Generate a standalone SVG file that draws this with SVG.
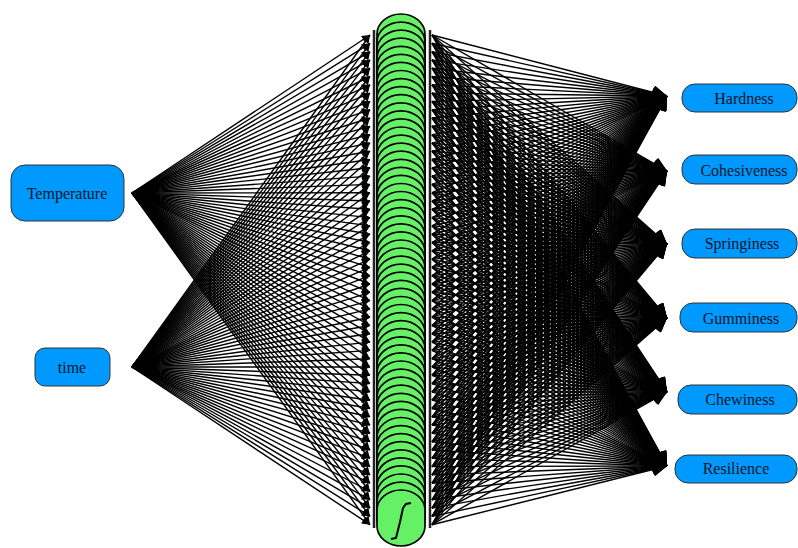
<svg xmlns="http://www.w3.org/2000/svg" xmlns:xlink="http://www.w3.org/1999/xlink" width="798" height="548" viewBox="0 0 798 548">
<style>
.c line{stroke:#000;stroke-width:1.4;fill:none}
.in line{marker-end:url(#ah)}
.out line{marker-end:url(#ao)}
.box{fill:#0099ff;stroke:#333;stroke-width:1}
.t{font-family:"Liberation Serif","Times New Roman",serif;font-size:16px;fill:#0a1628;text-anchor:middle;dominant-baseline:central}
.bar{stroke:#222;stroke-width:2.5}
</style>
<defs>
<marker id="ah" viewBox="0 0 10 10" refX="10" refY="5" markerWidth="10" markerHeight="8" markerUnits="userSpaceOnUse" orient="auto"><path d="M0,0L10,5L0,10z" fill="#000"/></marker>
<marker id="ao" viewBox="0 0 10 10" refX="10" refY="5" markerWidth="16" markerHeight="14" markerUnits="userSpaceOnUse" orient="auto"><path d="M0,0L10,5L0,10z" fill="#000"/></marker>
<rect id="neuron" x="377" y="0" width="48" height="56" rx="24" ry="20" fill="#66f066" stroke="#000" stroke-width="1.7"/>
</defs>
<g id="connectors" class="c">
<g class="in">
<line x1="132" y1="193" x2="370" y2="35"/><line x1="132" y1="193" x2="370" y2="43.3"/><line x1="132" y1="193" x2="370" y2="51.6"/><line x1="132" y1="193" x2="370" y2="59.9"/><line x1="132" y1="193" x2="370" y2="68.2"/><line x1="132" y1="193" x2="370" y2="76.5"/><line x1="132" y1="193" x2="370" y2="84.8"/><line x1="132" y1="193" x2="370" y2="93.1"/><line x1="132" y1="193" x2="370" y2="101.4"/><line x1="132" y1="193" x2="370" y2="109.7"/>
<line x1="132" y1="193" x2="370" y2="118"/><line x1="132" y1="193" x2="370" y2="126.3"/><line x1="132" y1="193" x2="370" y2="134.6"/><line x1="132" y1="193" x2="370" y2="142.9"/><line x1="132" y1="193" x2="370" y2="151.2"/><line x1="132" y1="193" x2="370" y2="159.5"/><line x1="132" y1="193" x2="370" y2="167.8"/><line x1="132" y1="193" x2="370" y2="176.1"/><line x1="132" y1="193" x2="370" y2="184.4"/><line x1="132" y1="193" x2="370" y2="192.7"/>
<line x1="132" y1="193" x2="370" y2="201"/><line x1="132" y1="193" x2="370" y2="209.3"/><line x1="132" y1="193" x2="370" y2="217.6"/><line x1="132" y1="193" x2="370" y2="225.9"/><line x1="132" y1="193" x2="370" y2="234.2"/><line x1="132" y1="193" x2="370" y2="242.5"/><line x1="132" y1="193" x2="370" y2="250.8"/><line x1="132" y1="193" x2="370" y2="259.1"/><line x1="132" y1="193" x2="370" y2="267.4"/><line x1="132" y1="193" x2="370" y2="275.7"/>
<line x1="132" y1="193" x2="370" y2="284"/><line x1="132" y1="193" x2="370" y2="292.3"/><line x1="132" y1="193" x2="370" y2="300.6"/><line x1="132" y1="193" x2="370" y2="308.9"/><line x1="132" y1="193" x2="370" y2="317.2"/><line x1="132" y1="193" x2="370" y2="325.5"/><line x1="132" y1="193" x2="370" y2="333.8"/><line x1="132" y1="193" x2="370" y2="342.1"/><line x1="132" y1="193" x2="370" y2="350.4"/><line x1="132" y1="193" x2="370" y2="358.7"/>
<line x1="132" y1="193" x2="370" y2="367"/><line x1="132" y1="193" x2="370" y2="375.3"/><line x1="132" y1="193" x2="370" y2="383.6"/><line x1="132" y1="193" x2="370" y2="391.9"/><line x1="132" y1="193" x2="370" y2="400.2"/><line x1="132" y1="193" x2="370" y2="408.5"/><line x1="132" y1="193" x2="370" y2="416.8"/><line x1="132" y1="193" x2="370" y2="425.1"/><line x1="132" y1="193" x2="370" y2="433.4"/><line x1="132" y1="193" x2="370" y2="441.7"/>
<line x1="132" y1="193" x2="370" y2="450"/><line x1="132" y1="193" x2="370" y2="458.3"/><line x1="132" y1="193" x2="370" y2="466.6"/><line x1="132" y1="193" x2="370" y2="474.9"/><line x1="132" y1="193" x2="370" y2="483.2"/><line x1="132" y1="193" x2="370" y2="491.5"/><line x1="132" y1="193" x2="370" y2="499.8"/><line x1="132" y1="193" x2="370" y2="508.1"/><line x1="132" y1="193" x2="370" y2="516.4"/><line x1="132" y1="193" x2="370" y2="524.7"/>

<line x1="132" y1="367" x2="370" y2="35"/><line x1="132" y1="367" x2="370" y2="43.3"/><line x1="132" y1="367" x2="370" y2="51.6"/><line x1="132" y1="367" x2="370" y2="59.9"/><line x1="132" y1="367" x2="370" y2="68.2"/><line x1="132" y1="367" x2="370" y2="76.5"/><line x1="132" y1="367" x2="370" y2="84.8"/><line x1="132" y1="367" x2="370" y2="93.1"/><line x1="132" y1="367" x2="370" y2="101.4"/><line x1="132" y1="367" x2="370" y2="109.7"/>
<line x1="132" y1="367" x2="370" y2="118"/><line x1="132" y1="367" x2="370" y2="126.3"/><line x1="132" y1="367" x2="370" y2="134.6"/><line x1="132" y1="367" x2="370" y2="142.9"/><line x1="132" y1="367" x2="370" y2="151.2"/><line x1="132" y1="367" x2="370" y2="159.5"/><line x1="132" y1="367" x2="370" y2="167.8"/><line x1="132" y1="367" x2="370" y2="176.1"/><line x1="132" y1="367" x2="370" y2="184.4"/><line x1="132" y1="367" x2="370" y2="192.7"/>
<line x1="132" y1="367" x2="370" y2="201"/><line x1="132" y1="367" x2="370" y2="209.3"/><line x1="132" y1="367" x2="370" y2="217.6"/><line x1="132" y1="367" x2="370" y2="225.9"/><line x1="132" y1="367" x2="370" y2="234.2"/><line x1="132" y1="367" x2="370" y2="242.5"/><line x1="132" y1="367" x2="370" y2="250.8"/><line x1="132" y1="367" x2="370" y2="259.1"/><line x1="132" y1="367" x2="370" y2="267.4"/><line x1="132" y1="367" x2="370" y2="275.7"/>
<line x1="132" y1="367" x2="370" y2="284"/><line x1="132" y1="367" x2="370" y2="292.3"/><line x1="132" y1="367" x2="370" y2="300.6"/><line x1="132" y1="367" x2="370" y2="308.9"/><line x1="132" y1="367" x2="370" y2="317.2"/><line x1="132" y1="367" x2="370" y2="325.5"/><line x1="132" y1="367" x2="370" y2="333.8"/><line x1="132" y1="367" x2="370" y2="342.1"/><line x1="132" y1="367" x2="370" y2="350.4"/><line x1="132" y1="367" x2="370" y2="358.7"/>
<line x1="132" y1="367" x2="370" y2="367"/><line x1="132" y1="367" x2="370" y2="375.3"/><line x1="132" y1="367" x2="370" y2="383.6"/><line x1="132" y1="367" x2="370" y2="391.9"/><line x1="132" y1="367" x2="370" y2="400.2"/><line x1="132" y1="367" x2="370" y2="408.5"/><line x1="132" y1="367" x2="370" y2="416.8"/><line x1="132" y1="367" x2="370" y2="425.1"/><line x1="132" y1="367" x2="370" y2="433.4"/><line x1="132" y1="367" x2="370" y2="441.7"/>
<line x1="132" y1="367" x2="370" y2="450"/><line x1="132" y1="367" x2="370" y2="458.3"/><line x1="132" y1="367" x2="370" y2="466.6"/><line x1="132" y1="367" x2="370" y2="474.9"/><line x1="132" y1="367" x2="370" y2="483.2"/><line x1="132" y1="367" x2="370" y2="491.5"/><line x1="132" y1="367" x2="370" y2="499.8"/><line x1="132" y1="367" x2="370" y2="508.1"/><line x1="132" y1="367" x2="370" y2="516.4"/><line x1="132" y1="367" x2="370" y2="524.7"/>
</g>
<g class="out">
<line x1="432" y1="35" x2="667" y2="96"/><line x1="432" y1="43.3" x2="667" y2="96"/><line x1="432" y1="51.6" x2="667" y2="96"/><line x1="432" y1="59.9" x2="667" y2="96"/><line x1="432" y1="68.2" x2="667" y2="96"/><line x1="432" y1="76.5" x2="667" y2="96"/><line x1="432" y1="84.8" x2="667" y2="96"/><line x1="432" y1="93.1" x2="667" y2="96"/><line x1="432" y1="101.4" x2="667" y2="96"/><line x1="432" y1="109.7" x2="667" y2="96"/>
<line x1="432" y1="118" x2="667" y2="96"/><line x1="432" y1="126.3" x2="667" y2="96"/><line x1="432" y1="134.6" x2="667" y2="96"/><line x1="432" y1="142.9" x2="667" y2="96"/><line x1="432" y1="151.2" x2="667" y2="96"/><line x1="432" y1="159.5" x2="667" y2="96"/><line x1="432" y1="167.8" x2="667" y2="96"/><line x1="432" y1="176.1" x2="667" y2="96"/><line x1="432" y1="184.4" x2="667" y2="96"/><line x1="432" y1="192.7" x2="667" y2="96"/>
<line x1="432" y1="201" x2="667" y2="96"/><line x1="432" y1="209.3" x2="667" y2="96"/><line x1="432" y1="217.6" x2="667" y2="96"/><line x1="432" y1="225.9" x2="667" y2="96"/><line x1="432" y1="234.2" x2="667" y2="96"/><line x1="432" y1="242.5" x2="667" y2="96"/><line x1="432" y1="250.8" x2="667" y2="96"/><line x1="432" y1="259.1" x2="667" y2="96"/><line x1="432" y1="267.4" x2="667" y2="96"/><line x1="432" y1="275.7" x2="667" y2="96"/>
<line x1="432" y1="284" x2="667" y2="96"/><line x1="432" y1="292.3" x2="667" y2="96"/><line x1="432" y1="300.6" x2="667" y2="96"/><line x1="432" y1="308.9" x2="667" y2="96"/><line x1="432" y1="317.2" x2="667" y2="96"/><line x1="432" y1="325.5" x2="667" y2="96"/><line x1="432" y1="333.8" x2="667" y2="96"/><line x1="432" y1="342.1" x2="667" y2="96"/><line x1="432" y1="350.4" x2="667" y2="96"/><line x1="432" y1="358.7" x2="667" y2="96"/>
<line x1="432" y1="367" x2="667" y2="96"/><line x1="432" y1="375.3" x2="667" y2="96"/><line x1="432" y1="383.6" x2="667" y2="96"/><line x1="432" y1="391.9" x2="667" y2="96"/><line x1="432" y1="400.2" x2="667" y2="96"/><line x1="432" y1="408.5" x2="667" y2="96"/><line x1="432" y1="416.8" x2="667" y2="96"/><line x1="432" y1="425.1" x2="667" y2="96"/><line x1="432" y1="433.4" x2="667" y2="96"/><line x1="432" y1="441.7" x2="667" y2="96"/>
<line x1="432" y1="450" x2="667" y2="96"/><line x1="432" y1="458.3" x2="667" y2="96"/><line x1="432" y1="466.6" x2="667" y2="96"/><line x1="432" y1="474.9" x2="667" y2="96"/><line x1="432" y1="483.2" x2="667" y2="96"/><line x1="432" y1="491.5" x2="667" y2="96"/><line x1="432" y1="499.8" x2="667" y2="96"/><line x1="432" y1="508.1" x2="667" y2="96"/><line x1="432" y1="516.4" x2="667" y2="96"/><line x1="432" y1="524.7" x2="667" y2="96"/>

<line x1="432" y1="35" x2="667" y2="171"/><line x1="432" y1="43.3" x2="667" y2="171"/><line x1="432" y1="51.6" x2="667" y2="171"/><line x1="432" y1="59.9" x2="667" y2="171"/><line x1="432" y1="68.2" x2="667" y2="171"/><line x1="432" y1="76.5" x2="667" y2="171"/><line x1="432" y1="84.8" x2="667" y2="171"/><line x1="432" y1="93.1" x2="667" y2="171"/><line x1="432" y1="101.4" x2="667" y2="171"/><line x1="432" y1="109.7" x2="667" y2="171"/>
<line x1="432" y1="118" x2="667" y2="171"/><line x1="432" y1="126.3" x2="667" y2="171"/><line x1="432" y1="134.6" x2="667" y2="171"/><line x1="432" y1="142.9" x2="667" y2="171"/><line x1="432" y1="151.2" x2="667" y2="171"/><line x1="432" y1="159.5" x2="667" y2="171"/><line x1="432" y1="167.8" x2="667" y2="171"/><line x1="432" y1="176.1" x2="667" y2="171"/><line x1="432" y1="184.4" x2="667" y2="171"/><line x1="432" y1="192.7" x2="667" y2="171"/>
<line x1="432" y1="201" x2="667" y2="171"/><line x1="432" y1="209.3" x2="667" y2="171"/><line x1="432" y1="217.6" x2="667" y2="171"/><line x1="432" y1="225.9" x2="667" y2="171"/><line x1="432" y1="234.2" x2="667" y2="171"/><line x1="432" y1="242.5" x2="667" y2="171"/><line x1="432" y1="250.8" x2="667" y2="171"/><line x1="432" y1="259.1" x2="667" y2="171"/><line x1="432" y1="267.4" x2="667" y2="171"/><line x1="432" y1="275.7" x2="667" y2="171"/>
<line x1="432" y1="284" x2="667" y2="171"/><line x1="432" y1="292.3" x2="667" y2="171"/><line x1="432" y1="300.6" x2="667" y2="171"/><line x1="432" y1="308.9" x2="667" y2="171"/><line x1="432" y1="317.2" x2="667" y2="171"/><line x1="432" y1="325.5" x2="667" y2="171"/><line x1="432" y1="333.8" x2="667" y2="171"/><line x1="432" y1="342.1" x2="667" y2="171"/><line x1="432" y1="350.4" x2="667" y2="171"/><line x1="432" y1="358.7" x2="667" y2="171"/>
<line x1="432" y1="367" x2="667" y2="171"/><line x1="432" y1="375.3" x2="667" y2="171"/><line x1="432" y1="383.6" x2="667" y2="171"/><line x1="432" y1="391.9" x2="667" y2="171"/><line x1="432" y1="400.2" x2="667" y2="171"/><line x1="432" y1="408.5" x2="667" y2="171"/><line x1="432" y1="416.8" x2="667" y2="171"/><line x1="432" y1="425.1" x2="667" y2="171"/><line x1="432" y1="433.4" x2="667" y2="171"/><line x1="432" y1="441.7" x2="667" y2="171"/>
<line x1="432" y1="450" x2="667" y2="171"/><line x1="432" y1="458.3" x2="667" y2="171"/><line x1="432" y1="466.6" x2="667" y2="171"/><line x1="432" y1="474.9" x2="667" y2="171"/><line x1="432" y1="483.2" x2="667" y2="171"/><line x1="432" y1="491.5" x2="667" y2="171"/><line x1="432" y1="499.8" x2="667" y2="171"/><line x1="432" y1="508.1" x2="667" y2="171"/><line x1="432" y1="516.4" x2="667" y2="171"/><line x1="432" y1="524.7" x2="667" y2="171"/>

<line x1="432" y1="35" x2="667" y2="244"/><line x1="432" y1="43.3" x2="667" y2="244"/><line x1="432" y1="51.6" x2="667" y2="244"/><line x1="432" y1="59.9" x2="667" y2="244"/><line x1="432" y1="68.2" x2="667" y2="244"/><line x1="432" y1="76.5" x2="667" y2="244"/><line x1="432" y1="84.8" x2="667" y2="244"/><line x1="432" y1="93.1" x2="667" y2="244"/><line x1="432" y1="101.4" x2="667" y2="244"/><line x1="432" y1="109.7" x2="667" y2="244"/>
<line x1="432" y1="118" x2="667" y2="244"/><line x1="432" y1="126.3" x2="667" y2="244"/><line x1="432" y1="134.6" x2="667" y2="244"/><line x1="432" y1="142.9" x2="667" y2="244"/><line x1="432" y1="151.2" x2="667" y2="244"/><line x1="432" y1="159.5" x2="667" y2="244"/><line x1="432" y1="167.8" x2="667" y2="244"/><line x1="432" y1="176.1" x2="667" y2="244"/><line x1="432" y1="184.4" x2="667" y2="244"/><line x1="432" y1="192.7" x2="667" y2="244"/>
<line x1="432" y1="201" x2="667" y2="244"/><line x1="432" y1="209.3" x2="667" y2="244"/><line x1="432" y1="217.6" x2="667" y2="244"/><line x1="432" y1="225.9" x2="667" y2="244"/><line x1="432" y1="234.2" x2="667" y2="244"/><line x1="432" y1="242.5" x2="667" y2="244"/><line x1="432" y1="250.8" x2="667" y2="244"/><line x1="432" y1="259.1" x2="667" y2="244"/><line x1="432" y1="267.4" x2="667" y2="244"/><line x1="432" y1="275.7" x2="667" y2="244"/>
<line x1="432" y1="284" x2="667" y2="244"/><line x1="432" y1="292.3" x2="667" y2="244"/><line x1="432" y1="300.6" x2="667" y2="244"/><line x1="432" y1="308.9" x2="667" y2="244"/><line x1="432" y1="317.2" x2="667" y2="244"/><line x1="432" y1="325.5" x2="667" y2="244"/><line x1="432" y1="333.8" x2="667" y2="244"/><line x1="432" y1="342.1" x2="667" y2="244"/><line x1="432" y1="350.4" x2="667" y2="244"/><line x1="432" y1="358.7" x2="667" y2="244"/>
<line x1="432" y1="367" x2="667" y2="244"/><line x1="432" y1="375.3" x2="667" y2="244"/><line x1="432" y1="383.6" x2="667" y2="244"/><line x1="432" y1="391.9" x2="667" y2="244"/><line x1="432" y1="400.2" x2="667" y2="244"/><line x1="432" y1="408.5" x2="667" y2="244"/><line x1="432" y1="416.8" x2="667" y2="244"/><line x1="432" y1="425.1" x2="667" y2="244"/><line x1="432" y1="433.4" x2="667" y2="244"/><line x1="432" y1="441.7" x2="667" y2="244"/>
<line x1="432" y1="450" x2="667" y2="244"/><line x1="432" y1="458.3" x2="667" y2="244"/><line x1="432" y1="466.6" x2="667" y2="244"/><line x1="432" y1="474.9" x2="667" y2="244"/><line x1="432" y1="483.2" x2="667" y2="244"/><line x1="432" y1="491.5" x2="667" y2="244"/><line x1="432" y1="499.8" x2="667" y2="244"/><line x1="432" y1="508.1" x2="667" y2="244"/><line x1="432" y1="516.4" x2="667" y2="244"/><line x1="432" y1="524.7" x2="667" y2="244"/>

<line x1="432" y1="35" x2="667" y2="318"/><line x1="432" y1="43.3" x2="667" y2="318"/><line x1="432" y1="51.6" x2="667" y2="318"/><line x1="432" y1="59.9" x2="667" y2="318"/><line x1="432" y1="68.2" x2="667" y2="318"/><line x1="432" y1="76.5" x2="667" y2="318"/><line x1="432" y1="84.8" x2="667" y2="318"/><line x1="432" y1="93.1" x2="667" y2="318"/><line x1="432" y1="101.4" x2="667" y2="318"/><line x1="432" y1="109.7" x2="667" y2="318"/>
<line x1="432" y1="118" x2="667" y2="318"/><line x1="432" y1="126.3" x2="667" y2="318"/><line x1="432" y1="134.6" x2="667" y2="318"/><line x1="432" y1="142.9" x2="667" y2="318"/><line x1="432" y1="151.2" x2="667" y2="318"/><line x1="432" y1="159.5" x2="667" y2="318"/><line x1="432" y1="167.8" x2="667" y2="318"/><line x1="432" y1="176.1" x2="667" y2="318"/><line x1="432" y1="184.4" x2="667" y2="318"/><line x1="432" y1="192.7" x2="667" y2="318"/>
<line x1="432" y1="201" x2="667" y2="318"/><line x1="432" y1="209.3" x2="667" y2="318"/><line x1="432" y1="217.6" x2="667" y2="318"/><line x1="432" y1="225.9" x2="667" y2="318"/><line x1="432" y1="234.2" x2="667" y2="318"/><line x1="432" y1="242.5" x2="667" y2="318"/><line x1="432" y1="250.8" x2="667" y2="318"/><line x1="432" y1="259.1" x2="667" y2="318"/><line x1="432" y1="267.4" x2="667" y2="318"/><line x1="432" y1="275.7" x2="667" y2="318"/>
<line x1="432" y1="284" x2="667" y2="318"/><line x1="432" y1="292.3" x2="667" y2="318"/><line x1="432" y1="300.6" x2="667" y2="318"/><line x1="432" y1="308.9" x2="667" y2="318"/><line x1="432" y1="317.2" x2="667" y2="318"/><line x1="432" y1="325.5" x2="667" y2="318"/><line x1="432" y1="333.8" x2="667" y2="318"/><line x1="432" y1="342.1" x2="667" y2="318"/><line x1="432" y1="350.4" x2="667" y2="318"/><line x1="432" y1="358.7" x2="667" y2="318"/>
<line x1="432" y1="367" x2="667" y2="318"/><line x1="432" y1="375.3" x2="667" y2="318"/><line x1="432" y1="383.6" x2="667" y2="318"/><line x1="432" y1="391.9" x2="667" y2="318"/><line x1="432" y1="400.2" x2="667" y2="318"/><line x1="432" y1="408.5" x2="667" y2="318"/><line x1="432" y1="416.8" x2="667" y2="318"/><line x1="432" y1="425.1" x2="667" y2="318"/><line x1="432" y1="433.4" x2="667" y2="318"/><line x1="432" y1="441.7" x2="667" y2="318"/>
<line x1="432" y1="450" x2="667" y2="318"/><line x1="432" y1="458.3" x2="667" y2="318"/><line x1="432" y1="466.6" x2="667" y2="318"/><line x1="432" y1="474.9" x2="667" y2="318"/><line x1="432" y1="483.2" x2="667" y2="318"/><line x1="432" y1="491.5" x2="667" y2="318"/><line x1="432" y1="499.8" x2="667" y2="318"/><line x1="432" y1="508.1" x2="667" y2="318"/><line x1="432" y1="516.4" x2="667" y2="318"/><line x1="432" y1="524.7" x2="667" y2="318"/>

<line x1="432" y1="35" x2="667" y2="392"/><line x1="432" y1="43.3" x2="667" y2="392"/><line x1="432" y1="51.6" x2="667" y2="392"/><line x1="432" y1="59.9" x2="667" y2="392"/><line x1="432" y1="68.2" x2="667" y2="392"/><line x1="432" y1="76.5" x2="667" y2="392"/><line x1="432" y1="84.8" x2="667" y2="392"/><line x1="432" y1="93.1" x2="667" y2="392"/><line x1="432" y1="101.4" x2="667" y2="392"/><line x1="432" y1="109.7" x2="667" y2="392"/>
<line x1="432" y1="118" x2="667" y2="392"/><line x1="432" y1="126.3" x2="667" y2="392"/><line x1="432" y1="134.6" x2="667" y2="392"/><line x1="432" y1="142.9" x2="667" y2="392"/><line x1="432" y1="151.2" x2="667" y2="392"/><line x1="432" y1="159.5" x2="667" y2="392"/><line x1="432" y1="167.8" x2="667" y2="392"/><line x1="432" y1="176.1" x2="667" y2="392"/><line x1="432" y1="184.4" x2="667" y2="392"/><line x1="432" y1="192.7" x2="667" y2="392"/>
<line x1="432" y1="201" x2="667" y2="392"/><line x1="432" y1="209.3" x2="667" y2="392"/><line x1="432" y1="217.6" x2="667" y2="392"/><line x1="432" y1="225.9" x2="667" y2="392"/><line x1="432" y1="234.2" x2="667" y2="392"/><line x1="432" y1="242.5" x2="667" y2="392"/><line x1="432" y1="250.8" x2="667" y2="392"/><line x1="432" y1="259.1" x2="667" y2="392"/><line x1="432" y1="267.4" x2="667" y2="392"/><line x1="432" y1="275.7" x2="667" y2="392"/>
<line x1="432" y1="284" x2="667" y2="392"/><line x1="432" y1="292.3" x2="667" y2="392"/><line x1="432" y1="300.6" x2="667" y2="392"/><line x1="432" y1="308.9" x2="667" y2="392"/><line x1="432" y1="317.2" x2="667" y2="392"/><line x1="432" y1="325.5" x2="667" y2="392"/><line x1="432" y1="333.8" x2="667" y2="392"/><line x1="432" y1="342.1" x2="667" y2="392"/><line x1="432" y1="350.4" x2="667" y2="392"/><line x1="432" y1="358.7" x2="667" y2="392"/>
<line x1="432" y1="367" x2="667" y2="392"/><line x1="432" y1="375.3" x2="667" y2="392"/><line x1="432" y1="383.6" x2="667" y2="392"/><line x1="432" y1="391.9" x2="667" y2="392"/><line x1="432" y1="400.2" x2="667" y2="392"/><line x1="432" y1="408.5" x2="667" y2="392"/><line x1="432" y1="416.8" x2="667" y2="392"/><line x1="432" y1="425.1" x2="667" y2="392"/><line x1="432" y1="433.4" x2="667" y2="392"/><line x1="432" y1="441.7" x2="667" y2="392"/>
<line x1="432" y1="450" x2="667" y2="392"/><line x1="432" y1="458.3" x2="667" y2="392"/><line x1="432" y1="466.6" x2="667" y2="392"/><line x1="432" y1="474.9" x2="667" y2="392"/><line x1="432" y1="483.2" x2="667" y2="392"/><line x1="432" y1="491.5" x2="667" y2="392"/><line x1="432" y1="499.8" x2="667" y2="392"/><line x1="432" y1="508.1" x2="667" y2="392"/><line x1="432" y1="516.4" x2="667" y2="392"/><line x1="432" y1="524.7" x2="667" y2="392"/>

<line x1="432" y1="35" x2="667" y2="466"/><line x1="432" y1="43.3" x2="667" y2="466"/><line x1="432" y1="51.6" x2="667" y2="466"/><line x1="432" y1="59.9" x2="667" y2="466"/><line x1="432" y1="68.2" x2="667" y2="466"/><line x1="432" y1="76.5" x2="667" y2="466"/><line x1="432" y1="84.8" x2="667" y2="466"/><line x1="432" y1="93.1" x2="667" y2="466"/><line x1="432" y1="101.4" x2="667" y2="466"/><line x1="432" y1="109.7" x2="667" y2="466"/>
<line x1="432" y1="118" x2="667" y2="466"/><line x1="432" y1="126.3" x2="667" y2="466"/><line x1="432" y1="134.6" x2="667" y2="466"/><line x1="432" y1="142.9" x2="667" y2="466"/><line x1="432" y1="151.2" x2="667" y2="466"/><line x1="432" y1="159.5" x2="667" y2="466"/><line x1="432" y1="167.8" x2="667" y2="466"/><line x1="432" y1="176.1" x2="667" y2="466"/><line x1="432" y1="184.4" x2="667" y2="466"/><line x1="432" y1="192.7" x2="667" y2="466"/>
<line x1="432" y1="201" x2="667" y2="466"/><line x1="432" y1="209.3" x2="667" y2="466"/><line x1="432" y1="217.6" x2="667" y2="466"/><line x1="432" y1="225.9" x2="667" y2="466"/><line x1="432" y1="234.2" x2="667" y2="466"/><line x1="432" y1="242.5" x2="667" y2="466"/><line x1="432" y1="250.8" x2="667" y2="466"/><line x1="432" y1="259.1" x2="667" y2="466"/><line x1="432" y1="267.4" x2="667" y2="466"/><line x1="432" y1="275.7" x2="667" y2="466"/>
<line x1="432" y1="284" x2="667" y2="466"/><line x1="432" y1="292.3" x2="667" y2="466"/><line x1="432" y1="300.6" x2="667" y2="466"/><line x1="432" y1="308.9" x2="667" y2="466"/><line x1="432" y1="317.2" x2="667" y2="466"/><line x1="432" y1="325.5" x2="667" y2="466"/><line x1="432" y1="333.8" x2="667" y2="466"/><line x1="432" y1="342.1" x2="667" y2="466"/><line x1="432" y1="350.4" x2="667" y2="466"/><line x1="432" y1="358.7" x2="667" y2="466"/>
<line x1="432" y1="367" x2="667" y2="466"/><line x1="432" y1="375.3" x2="667" y2="466"/><line x1="432" y1="383.6" x2="667" y2="466"/><line x1="432" y1="391.9" x2="667" y2="466"/><line x1="432" y1="400.2" x2="667" y2="466"/><line x1="432" y1="408.5" x2="667" y2="466"/><line x1="432" y1="416.8" x2="667" y2="466"/><line x1="432" y1="425.1" x2="667" y2="466"/><line x1="432" y1="433.4" x2="667" y2="466"/><line x1="432" y1="441.7" x2="667" y2="466"/>
<line x1="432" y1="450" x2="667" y2="466"/><line x1="432" y1="458.3" x2="667" y2="466"/><line x1="432" y1="466.6" x2="667" y2="466"/><line x1="432" y1="474.9" x2="667" y2="466"/><line x1="432" y1="483.2" x2="667" y2="466"/><line x1="432" y1="491.5" x2="667" y2="466"/><line x1="432" y1="499.8" x2="667" y2="466"/><line x1="432" y1="508.1" x2="667" y2="466"/><line x1="432" y1="516.4" x2="667" y2="466"/><line x1="432" y1="524.7" x2="667" y2="466"/>
</g>
</g>
<line class="bar" x1="374" y1="30" x2="374" y2="528"/>
<line class="bar" x1="430" y1="30" x2="430" y2="528"/>
<g id="hidden">
<g id="h1"><use xlink:href="#neuron" y="14"/></g><g id="h2"><use xlink:href="#neuron" y="22.1"/></g><g id="h3"><use xlink:href="#neuron" y="30.1"/></g><g id="h4"><use xlink:href="#neuron" y="38.2"/></g><g id="h5"><use xlink:href="#neuron" y="46.3"/></g><g id="h6"><use xlink:href="#neuron" y="54.4"/></g><g id="h7"><use xlink:href="#neuron" y="62.4"/></g><g id="h8"><use xlink:href="#neuron" y="70.5"/></g><g id="h9"><use xlink:href="#neuron" y="78.6"/></g><g id="h10"><use xlink:href="#neuron" y="86.6"/></g>
<g id="h11"><use xlink:href="#neuron" y="94.7"/></g><g id="h12"><use xlink:href="#neuron" y="102.8"/></g><g id="h13"><use xlink:href="#neuron" y="110.8"/></g><g id="h14"><use xlink:href="#neuron" y="118.9"/></g><g id="h15"><use xlink:href="#neuron" y="127"/></g><g id="h16"><use xlink:href="#neuron" y="135.1"/></g><g id="h17"><use xlink:href="#neuron" y="143.1"/></g><g id="h18"><use xlink:href="#neuron" y="151.2"/></g><g id="h19"><use xlink:href="#neuron" y="159.3"/></g><g id="h20"><use xlink:href="#neuron" y="167.3"/></g>
<g id="h21"><use xlink:href="#neuron" y="175.4"/></g><g id="h22"><use xlink:href="#neuron" y="183.5"/></g><g id="h23"><use xlink:href="#neuron" y="191.5"/></g><g id="h24"><use xlink:href="#neuron" y="199.6"/></g><g id="h25"><use xlink:href="#neuron" y="207.7"/></g><g id="h26"><use xlink:href="#neuron" y="215.8"/></g><g id="h27"><use xlink:href="#neuron" y="223.8"/></g><g id="h28"><use xlink:href="#neuron" y="231.9"/></g><g id="h29"><use xlink:href="#neuron" y="240"/></g><g id="h30"><use xlink:href="#neuron" y="248"/></g>
<g id="h31"><use xlink:href="#neuron" y="256.1"/></g><g id="h32"><use xlink:href="#neuron" y="264.2"/></g><g id="h33"><use xlink:href="#neuron" y="272.2"/></g><g id="h34"><use xlink:href="#neuron" y="280.3"/></g><g id="h35"><use xlink:href="#neuron" y="288.4"/></g><g id="h36"><use xlink:href="#neuron" y="296.5"/></g><g id="h37"><use xlink:href="#neuron" y="304.5"/></g><g id="h38"><use xlink:href="#neuron" y="312.6"/></g><g id="h39"><use xlink:href="#neuron" y="320.7"/></g><g id="h40"><use xlink:href="#neuron" y="328.7"/></g>
<g id="h41"><use xlink:href="#neuron" y="336.8"/></g><g id="h42"><use xlink:href="#neuron" y="344.9"/></g><g id="h43"><use xlink:href="#neuron" y="352.9"/></g><g id="h44"><use xlink:href="#neuron" y="361"/></g><g id="h45"><use xlink:href="#neuron" y="369.1"/></g><g id="h46"><use xlink:href="#neuron" y="377.2"/></g><g id="h47"><use xlink:href="#neuron" y="385.2"/></g><g id="h48"><use xlink:href="#neuron" y="393.3"/></g><g id="h49"><use xlink:href="#neuron" y="401.4"/></g><g id="h50"><use xlink:href="#neuron" y="409.4"/></g>
<g id="h51"><use xlink:href="#neuron" y="417.5"/></g><g id="h52"><use xlink:href="#neuron" y="425.6"/></g><g id="h53"><use xlink:href="#neuron" y="433.6"/></g><g id="h54"><use xlink:href="#neuron" y="441.7"/></g><g id="h55"><use xlink:href="#neuron" y="449.8"/></g><g id="h56"><use xlink:href="#neuron" y="457.9"/></g><g id="h57"><use xlink:href="#neuron" y="465.9"/></g><g id="h58"><use xlink:href="#neuron" y="474"/></g><g id="h59"><use xlink:href="#neuron" y="482.1"/></g>
<g id="h60"><use xlink:href="#neuron" y="490"/><path d="M391,539 L396,538 L400,522 L403,508 L406,504 L411,503" fill="none" stroke="#000" stroke-width="2"/></g>
</g>
<g id="temperature"><rect class="box" x="11" y="165" width="113" height="56" rx="14"/><text class="t" x="67" y="193">Temperature</text></g>
<g id="time"><rect class="box" x="35" y="348" width="75" height="38" rx="10"/><text class="t" x="72" y="367">time</text></g>
<g id="hardness"><rect class="box" x="682" y="84" width="115" height="28" rx="13"/><text class="t" x="744" y="98">Hardness</text></g>
<g id="cohesiveness"><rect class="box" x="682" y="155" width="115" height="29" rx="13"/><text class="t" x="744" y="170">Cohesiveness</text></g>
<g id="springiness"><rect class="box" x="682" y="229" width="115" height="29" rx="13"/><text class="t" x="742" y="243">Springiness</text></g>
<g id="gumminess"><rect class="box" x="680" y="303" width="117" height="29" rx="13"/><text class="t" x="741" y="318">Gumminess</text></g>
<g id="chewiness"><rect class="box" x="678" y="385" width="119" height="29" rx="13"/><text class="t" x="740" y="399">Chewiness</text></g>
<g id="resilience"><rect class="box" x="675" y="455" width="122" height="28" rx="13"/><text class="t" x="736" y="468">Resilience</text></g>
</svg>
